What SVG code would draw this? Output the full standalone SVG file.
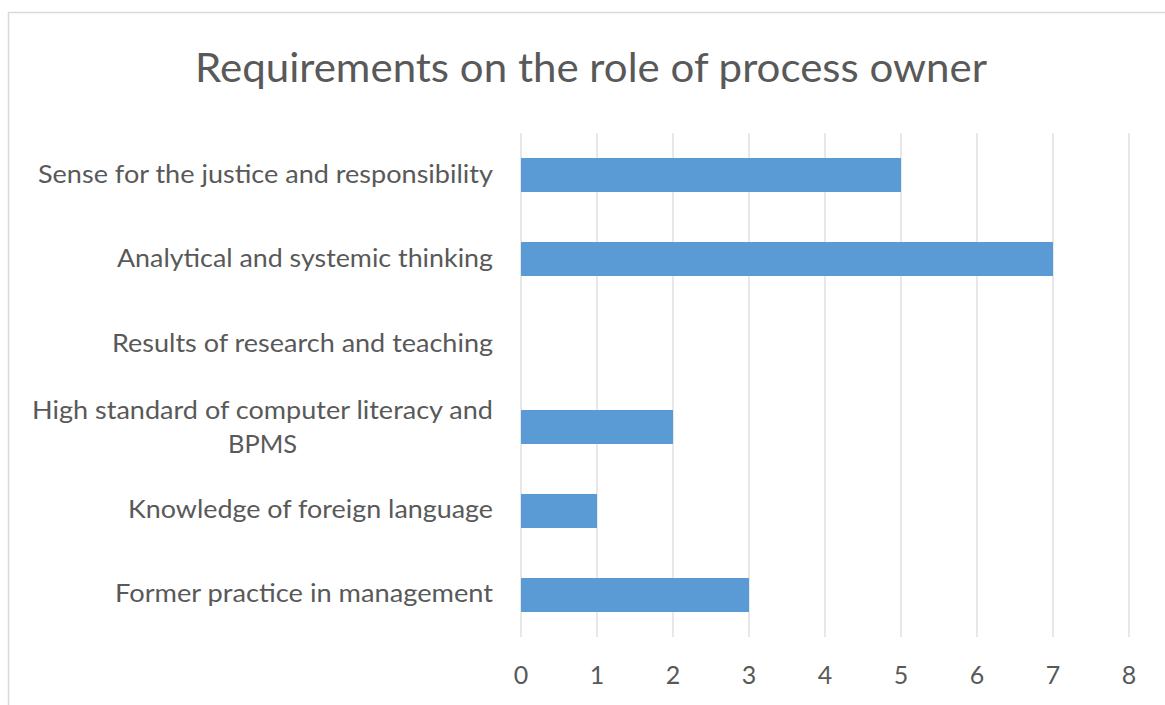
<svg xmlns="http://www.w3.org/2000/svg" width="1165" height="705" viewBox="0 0 1165 705">
<style>
.t{font-family:Lato,"Open Sans",sans-serif;fill:#595959}
.lbl{font-size:25px;text-anchor:end}
.tick{font-size:25px;text-anchor:middle}
.grid{stroke:#D9D9D9;stroke-width:1.2}
.bar{fill:#5B9BD5}
</style>
<rect width="1165" height="705" fill="#fff"/>
<g id="frame"><path d="M8.5 720 V12.5 H1180" fill="none" stroke="#D9D9D9" stroke-width="1.5"/></g>
<g id="title"><text class="t" x="195" y="82" font-size="40" textLength="792" lengthAdjust="spacingAndGlyphs">Requirements on the role of process owner</text></g>
<g id="gridlines">
<line class="grid" x1="521" y1="133" x2="521" y2="637"/>
<line class="grid" x1="597" y1="133" x2="597" y2="637"/>
<line class="grid" x1="673" y1="133" x2="673" y2="637"/>
<line class="grid" x1="749" y1="133" x2="749" y2="637"/>
<line class="grid" x1="825" y1="133" x2="825" y2="637"/>
<line class="grid" x1="901" y1="133" x2="901" y2="637"/>
<line class="grid" x1="977" y1="133" x2="977" y2="637"/>
<line class="grid" x1="1053" y1="133" x2="1053" y2="637"/>
<line class="grid" x1="1129" y1="133" x2="1129" y2="637"/>
</g>
<g id="bars">
<rect class="bar" x="521" y="158" width="380" height="34"/>
<rect class="bar" x="521" y="242" width="532" height="34"/>
<rect class="bar" x="521" y="410" width="152" height="34"/>
<rect class="bar" x="521" y="494" width="76" height="34"/>
<rect class="bar" x="521" y="578" width="228" height="34"/>
</g>
<g id="category-labels">
<text class="t lbl" x="493" y="183" textLength="455" lengthAdjust="spacingAndGlyphs">Sense for the justice and responsibility</text>
<text class="t lbl" x="493" y="267" textLength="376" lengthAdjust="spacingAndGlyphs">Analytical and systemic thinking</text>
<text class="t lbl" x="493" y="352" textLength="381" lengthAdjust="spacingAndGlyphs">Results of research and teaching</text>
<text class="t" x="32" y="419" font-size="25" textLength="461" lengthAdjust="spacingAndGlyphs">High standard of computer literacy and</text>
<text class="t" x="228" y="453" font-size="25" textLength="69" lengthAdjust="spacingAndGlyphs">BPMS</text>
<text class="t lbl" x="493" y="518" textLength="365" lengthAdjust="spacingAndGlyphs">Knowledge of foreign language</text>
<text class="t lbl" x="493" y="602" textLength="378" lengthAdjust="spacingAndGlyphs">Former practice in management</text>
</g>
<g id="axis-labels">
<text class="t tick" x="521" y="684">0</text>
<text class="t tick" x="597" y="684">1</text>
<text class="t tick" x="673" y="684">2</text>
<text class="t tick" x="749" y="684">3</text>
<text class="t tick" x="825" y="684">4</text>
<text class="t tick" x="901" y="684">5</text>
<text class="t tick" x="977" y="684">6</text>
<text class="t tick" x="1053" y="684">7</text>
<text class="t tick" x="1129" y="684">8</text>
</g>
</svg>
